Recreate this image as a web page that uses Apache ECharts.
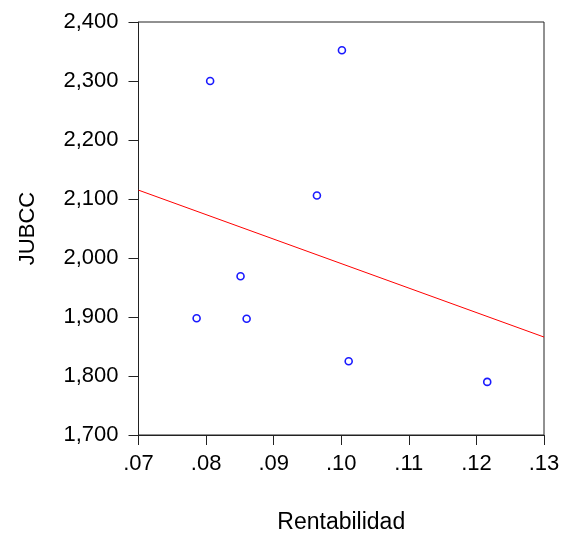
<!DOCTYPE html>
<html>
<head>
<meta charset="utf-8">
<script src="https://cdn.jsdelivr.net/npm/echarts@6/dist/echarts.min.js"></script>
<style>html,body{margin:0;padding:0;background:#fff}#c{width:561px;height:535px}</style>
</head>
<body>
<div id="c"></div>
<script>
var rentabilidad = [0.1001, 0.0806, 0.0964, 0.0851, 0.0786, 0.0860, 0.1011, 0.1216];
var jubcc = [2352, 2300, 2106, 1969, 1898, 1897, 1825, 1790];
var trendX = [0.07, 0.13];
var trendY = [2115, 1866];

var points = rentabilidad.map(function (x, i) { return [x, jubcc[i]]; });
var trend = trendX.map(function (x, i) { return [x, trendY[i]]; });

var font = 'Liberation Sans, Arial, sans-serif';
var chart = echarts.init(document.getElementById('c'), null, {renderer: 'canvas'});
chart.setOption({
  animation: false,
  backgroundColor: '#fff',
  grid: {left: 138.5, right: 17, top: 22, bottom: 100, containLabel: false, outerBoundsMode: 'none',
    show: true, borderColor: '#222', borderWidth: 1, backgroundColor: 'transparent'},
  xAxis: {
    type: 'value', min: 0.07, max: 0.13, interval: 0.01,
    name: 'Rentabilidad', nameLocation: 'middle', nameGap: 76,
    nameTextStyle: {fontFamily: font, fontSize: 23, color: '#000'},
    axisLine: {show: true, onZero: false, lineStyle: {color: '#222', width: 1}},
    axisTick: {show: true, inside: false, length: 10, lineStyle: {color: '#222'}},
    axisLabel: {margin: 18, fontFamily: font, fontSize: 22, color: '#000',
      formatter: function (v) { return v.toFixed(2).replace(/^0/, ''); }},
    splitLine: {show: false}
  },
  yAxis: {
    type: 'value', min: 1700, max: 2400, interval: 100,
    name: 'JUBCC', nameLocation: 'middle', nameGap: 100,
    nameTextStyle: {fontFamily: font, fontSize: 22, color: '#000'},
    axisLine: {show: true, onZero: false, lineStyle: {color: '#222', width: 1}},
    axisTick: {show: true, inside: false, length: 10, lineStyle: {color: '#222'}},
    axisLabel: {margin: 20, fontFamily: font, fontSize: 22, color: '#000',
      formatter: function (v) { return v.toLocaleString('en-US'); }},
    splitLine: {show: false}
  },
  series: [
    {
      type: 'line', data: trend, showSymbol: false, symbol: 'none',
      lineStyle: {color: '#ff0000', width: 1}, z: 2
    },
    {
      type: 'scatter', data: points, symbol: 'circle', symbolSize: 7,
      itemStyle: {color: '#ffffff', borderColor: '#1a1aff', borderWidth: 1.6, opacity: 1}, z: 3
    }
  ]
});
</script>
</body>
</html>
